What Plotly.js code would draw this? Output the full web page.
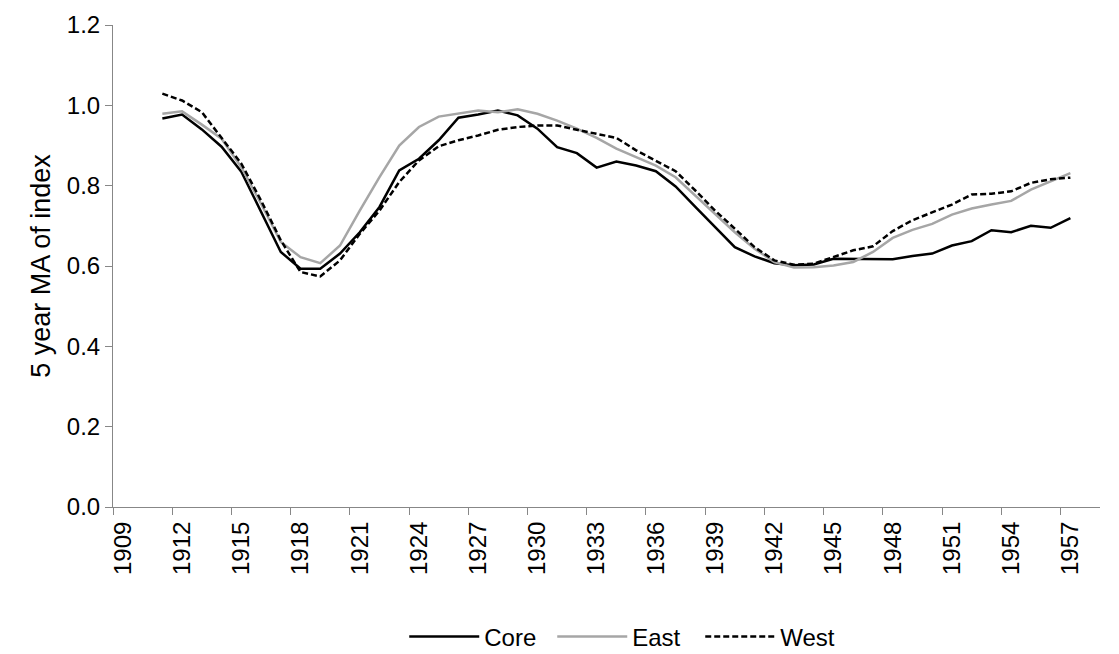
<!DOCTYPE html>
<html>
<head>
<meta charset="utf-8">
<script src="https://cdn.plot.ly/plotly-3.0.1.min.js"></script>
<style>html,body{margin:0;padding:0;background:#fff;}#chart{width:1119px;height:654px;}</style>
</head>
<body>
<div id="chart"></div>
<script>
// Axis categories (years shown on the category axis)
var axisYears = [];
for (var y = 1909; y <= 1958; y++) axisYears.push(String(y));

// Data years
var years = ["1911","1912","1913","1914","1915","1916","1917","1918","1919","1920",
  "1921","1922","1923","1924","1925","1926","1927","1928","1929","1930",
  "1931","1932","1933","1934","1935","1936","1937","1938","1939","1940",
  "1941","1942","1943","1944","1945","1946","1947","1948","1949","1950",
  "1951","1952","1953","1954","1955","1956","1957"];

var core = [0.967,0.977,0.940,0.897,0.835,0.735,0.635,0.593,0.593,0.631,
  0.684,0.747,0.838,0.867,0.913,0.969,0.977,0.987,0.975,0.942,
  0.896,0.881,0.845,0.860,0.850,0.836,0.798,0.747,0.697,0.647,
  0.624,0.607,0.602,0.604,0.618,0.618,0.617,0.617,0.625,0.631,
  0.651,0.662,0.689,0.684,0.700,0.695,0.719];

var east = [0.979,0.985,0.952,0.917,0.846,0.755,0.660,0.622,0.607,0.651,
  0.738,0.821,0.900,0.946,0.972,0.979,0.987,0.983,0.990,0.979,
  0.962,0.942,0.919,0.892,0.870,0.850,0.821,0.776,0.730,0.684,
  0.643,0.610,0.596,0.597,0.601,0.610,0.635,0.670,0.690,0.705,
  0.728,0.743,0.753,0.762,0.790,0.811,0.831];

var west = [1.029,1.012,0.983,0.920,0.855,0.763,0.664,0.585,0.574,0.614,
  0.680,0.738,0.809,0.863,0.898,0.913,0.925,0.939,0.946,0.950,
  0.950,0.939,0.929,0.919,0.888,0.863,0.836,0.788,0.738,0.693,
  0.647,0.614,0.603,0.606,0.622,0.639,0.649,0.687,0.714,0.734,
  0.753,0.778,0.780,0.786,0.807,0.816,0.820];

var seriesNames = ["Core", "East", "West"];

var traces = [
  {x: years, y: core, name: seriesNames[0], type: 'scatter', mode: 'lines',
   line: {color: '#000000', width: 2.5}},
  {x: years, y: east, name: seriesNames[1], type: 'scatter', mode: 'lines',
   line: {color: '#a6a6a6', width: 2.5}},
  {x: years, y: west, name: seriesNames[2], type: 'scatter', mode: 'lines',
   line: {color: '#000000', width: 2.5, dash: '6px,3px'}}
];

var fam = 'Liberation Sans, Arial, sans-serif';
var fnt = {family: fam, size: 24, color: '#000'};

var layout = {
  width: 1119, height: 654,
  margin: {l: 113, r: 19, t: 25, b: 147, autoexpand: false},
  paper_bgcolor: '#fff', plot_bgcolor: '#fff',
  font: fnt,
  showlegend: true,
  legend: {orientation: 'h', xref: 'paper', x: 0.52, xanchor: 'center',
    yref: 'container', y: 0.026, yanchor: 'middle',
    font: fnt, itemwidth: 70, entrywidth: 63, traceorder: 'normal'},
  xaxis: {
    type: 'category', categoryorder: 'array', categoryarray: axisYears,
    range: [-0.5, axisYears.length - 0.5],
    dtick: 3, tickangle: -90, tickson: 'boundaries',
    ticks: 'outside', ticklen: 7, tickcolor: '#878787', tickwidth: 1,
    ticklabelstandoff: 4,
    showline: true, linecolor: '#878787', linewidth: 1,
    showgrid: false, zeroline: false, tickfont: fnt, fixedrange: true, automargin: false
  },
  yaxis: {
    range: [0, 1.2], dtick: 0.2, tick0: 0, tickformat: '.1f',
    ticks: 'outside', ticklen: 7, tickcolor: '#878787', tickwidth: 1,
    showline: true, linecolor: '#878787', linewidth: 1,
    showgrid: false, zeroline: false, tickfont: fnt, automargin: false,
    title: {text: '5 year MA of index', font: {family: fam, size: 27, color: '#000'}, standoff: 8},
    fixedrange: true
  }
};

Plotly.newPlot('chart', traces, layout, {displayModeBar: false, staticPlot: true});
</script>
</body>
</html>
